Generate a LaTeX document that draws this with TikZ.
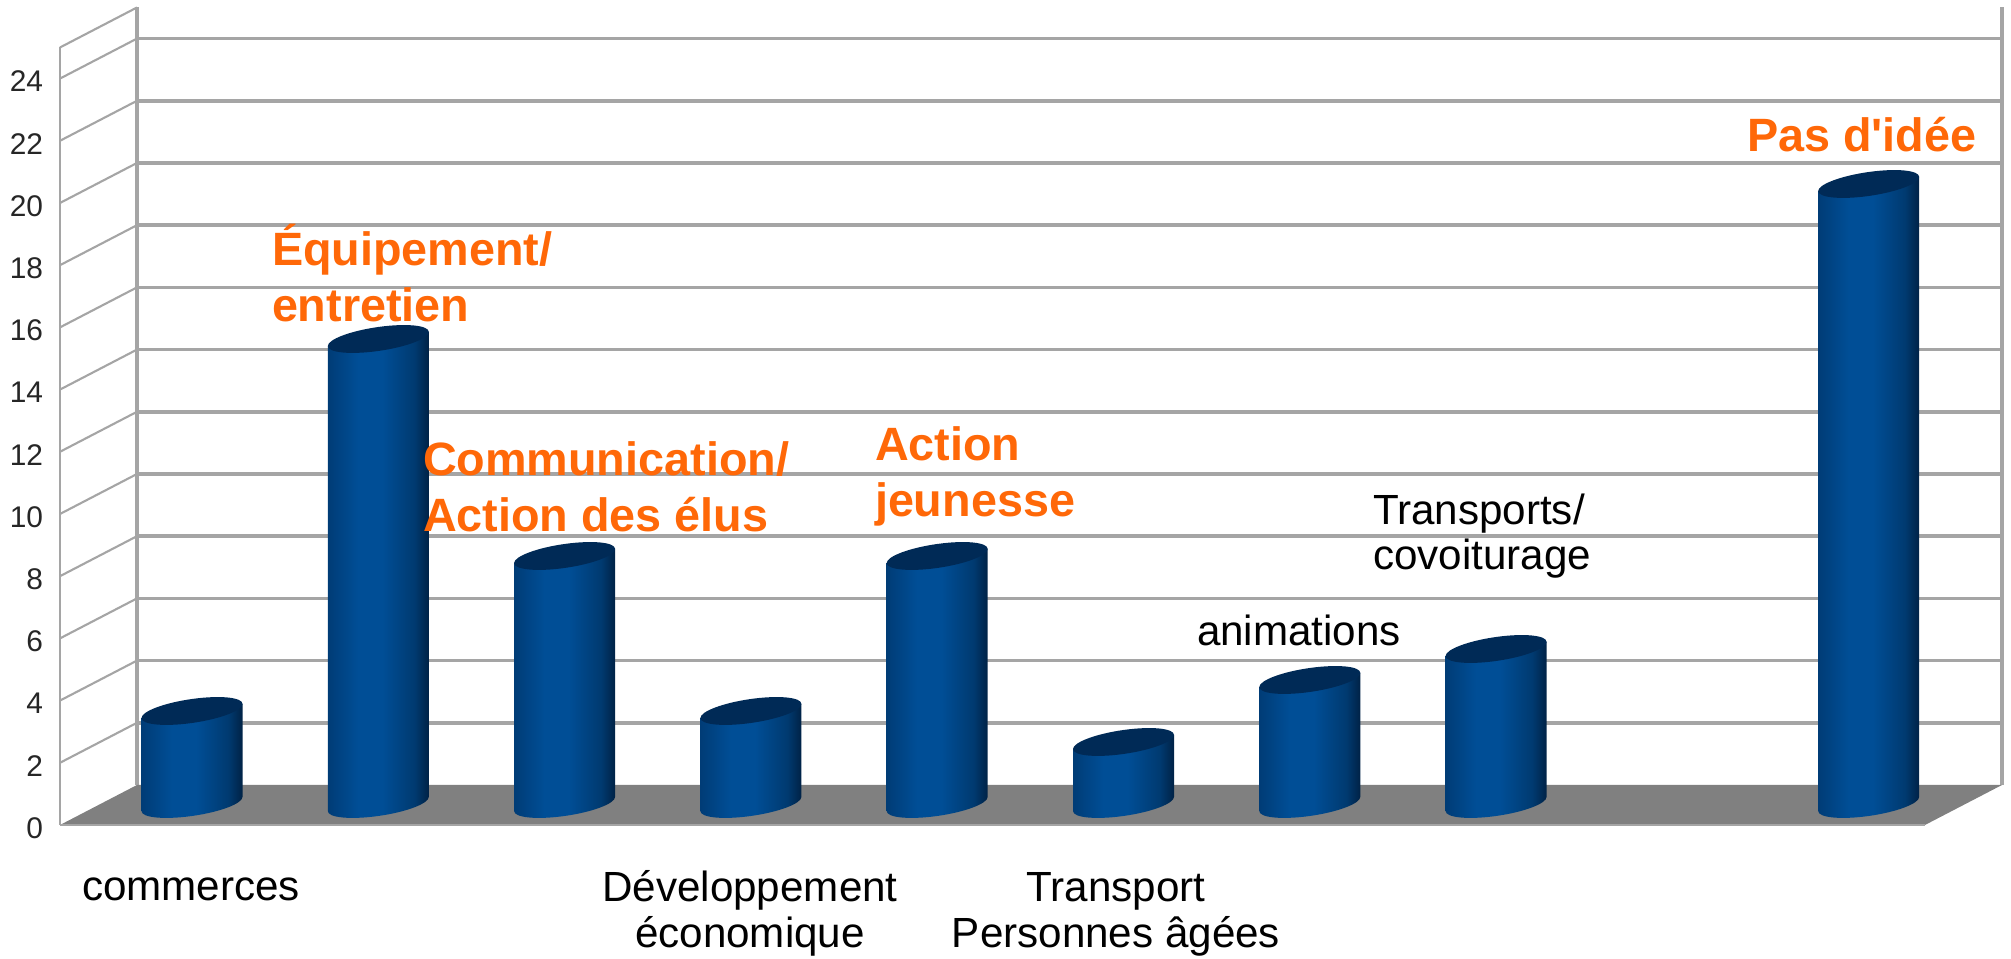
\documentclass[tikz,border=0pt]{standalone}
\usepackage{fontspec}
\setmainfont{Liberation Sans}
\usetikzlibrary{positioning}
\usetikzlibrary{calc}
\definecolor{gridgray}{RGB}{165,165,165}
\definecolor{floorgray}{RGB}{128,128,128}
\definecolor{hotorange}{RGB}{255,104,8}
\definecolor{barA}{RGB}{0,60,118}
\definecolor{barB}{RGB}{0,78,150}
\definecolor{barC}{RGB}{0,58,112}
\definecolor{barD}{RGB}{0,34,70}
\definecolor{bartop}{RGB}{0,42,86}
\pgfdeclarehorizontalshading{cylshade}{100bp}{color(0bp)=(barA); color(25bp)=(barA); color(40bp)=(barB); color(52bp)=(barB); color(68bp)=(barC); color(75bp)=(barD); color(100bp)=(barD)}
\tikzset{
	every node/.style={inner sep=0pt, outer sep=0pt},
	wallline/.style={gridgray, line width=1pt},
	sideline/.style={gridgray, line width=0.6pt},
	ticklabel/.style={anchor=east, font=\fontsize{8.5}{9}\selectfont, text=black!85},
	hotlabel/.style={anchor=base west, align=left, text=hotorange, font=\fontsize{13.3}{16.2}\selectfont\bfseries},
	barlabel/.style={anchor=base west, align=left, font=\fontsize{12}{12.8}\selectfont},
	catlabel/.style={anchor=base, align=center, font=\fontsize{12}{13.1}\selectfont}
}
% value -> height on back wall / front edge
\newcommand{\backy}[1]{1.74+0.311*#1}
\newcommand{\fronty}[1]{1.34+0.311*#1}

\begin{document}
\begin{tikzpicture}
	\useasboundingbox (0,0) rectangle (20.11,9.59);

	% back wall
	\foreach \v in {2,4,...,24}
		\draw[wallline] (1.37,{\backy{\v}}) -- (20.02,{\backy{\v}});
	\draw[wallline] (1.37,{\backy{0}}) -- (1.37,{\backy{25}});
	\draw[wallline] (20.02,{\backy{0}}) -- (20.02,{\backy{25}});

	% side wall
	\foreach \v in {2,4,...,24,25}
		\draw[sideline] (0.60,{\fronty{\v}}) -- (1.37,{\backy{\v}});
	\draw[sideline] (0.60,{\fronty{0}}) -- (0.60,{\fronty{25}});

	% floor
	\fill[floorgray] (0.60,{\fronty{0}}) -- (19.25,{\fronty{0}}) -- (20.02,{\backy{0}}) -- (1.37,{\backy{0}}) -- cycle;
	\draw[sideline] (0.60,{\fronty{0}}) -- (19.25,{\fronty{0}});

	% axis
	\foreach \v in {0,2,...,24}
		\node (tick\v) [ticklabel] at (0.43,{\fronty{\v}-0.03}) {\v};

	% bars
	\foreach \i/\v in {0/3,1/15,2/8,3/3,4/8,5/2,6/4,7/5,9/20}{
		\begin{scope}[shift={({1.92+1.863*\i},1.55)}, yslant=0.14]
			\shade[shading=cylshade] (-0.505,0) arc (180:360:0.505 and 0.12) -- (0.505,{0.31*\v}) -- (-0.505,{0.31*\v}) -- cycle;
			\fill[bartop] (0,{0.31*\v}) ellipse (0.505 and 0.12);
		\end{scope}
	}

	% labels (base = last line)
	\node (equip) [hotlabel] at (2.72,6.37) {Équipement/\\entretien};
	\node (comm) [hotlabel] at (4.23,4.27) {Communication/\\Action des élus};
	\node (jeun) [hotlabel] at (8.75,4.42) {Action\\jeunesse};
	\node (idee) [hotlabel] at (17.47,8.07) {Pas d\textquotesingle idée};
	\node (covoit) [barlabel] at (13.73,3.89) {Transports/\\covoiturage};
	\node (anim) [barlabel] at (11.97,3.13) {animations};
	\node (commerc) [barlabel] at (0.82,0.58) {commerces};
	\node (devel) [catlabel] at (7.50,0.11) {Développement\\économique};
	\node (agees) [catlabel] at (11.16,0.11) {Transport\\Personnes âgées};
\end{tikzpicture}
\end{document}
